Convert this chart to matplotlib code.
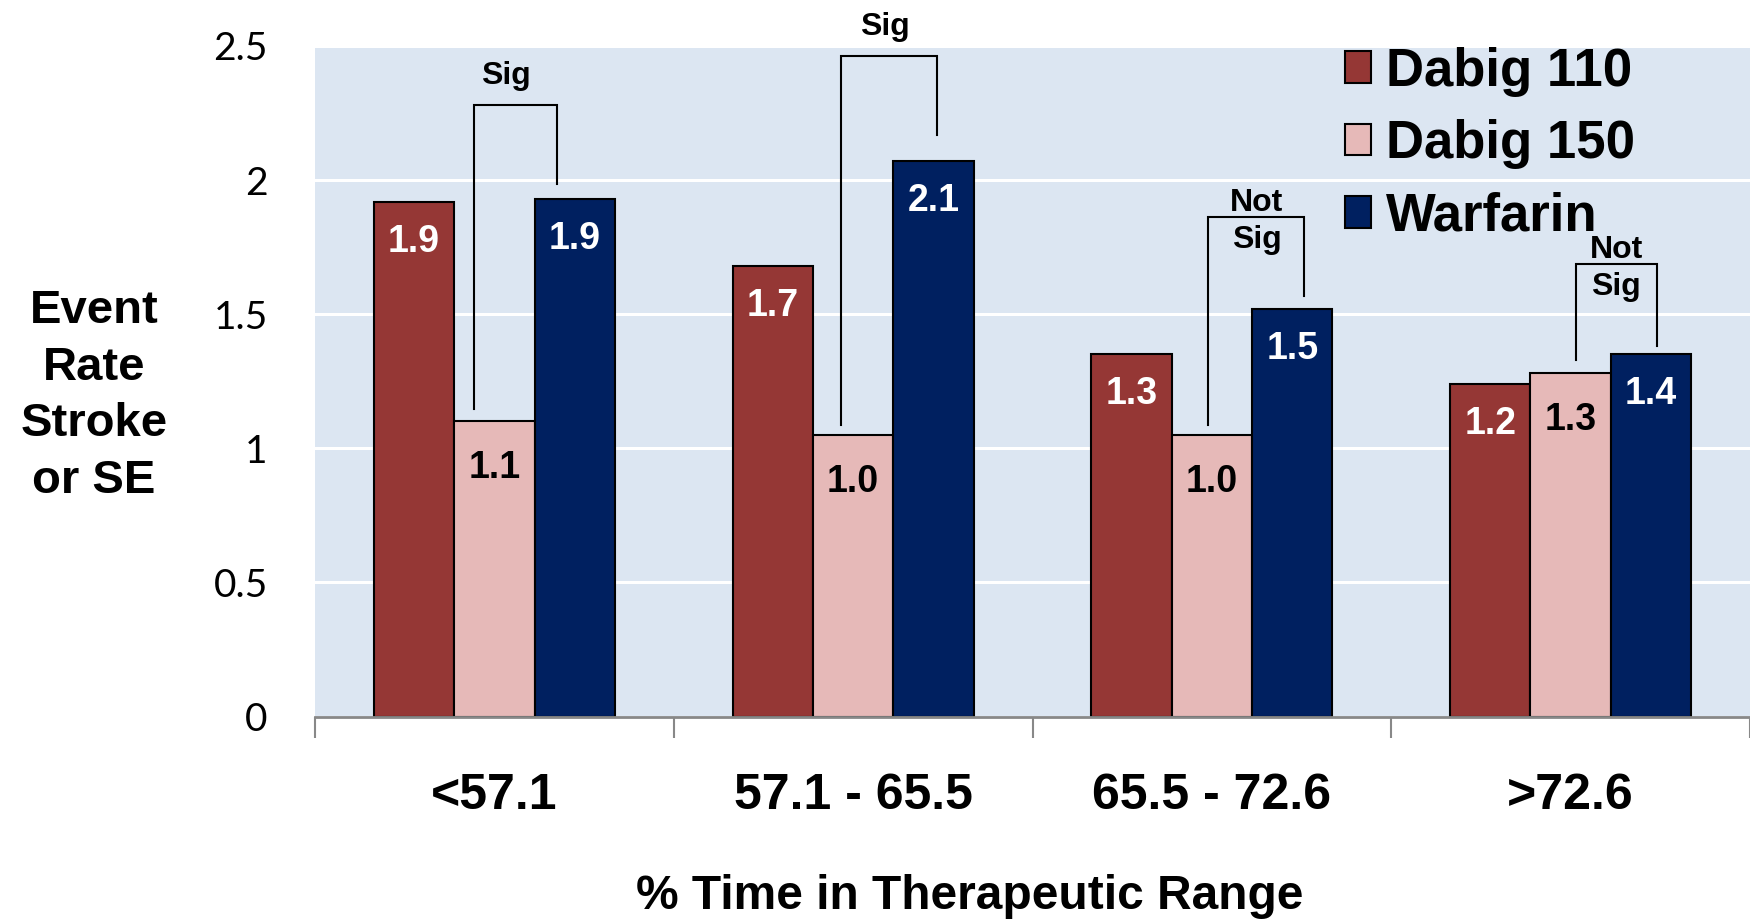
import matplotlib
matplotlib.use("Agg")
import matplotlib.pyplot as plt
import numpy as np

# ---- data ----
categories = ["<57.1", "57.1 - 65.5", "65.5 - 72.6", ">72.6"]
series_names = ["Dabig 110", "Dabig 150", "Warfarin"]
dabig110 = [1.92, 1.68, 1.35, 1.24]
dabig150 = [1.10, 1.05, 1.05, 1.28]
warfarin = [1.93, 2.07, 1.52, 1.35]
label110 = ["1.9", "1.7", "1.3", "1.2"]
label150 = ["1.1", "1.0", "1.0", "1.3"]
labelwar = ["1.9", "2.1", "1.5", "1.4"]
sig_labels = ["Sig", "Sig", "Not\nSig", "Not\nSig"]
y_ticks = [0, 0.5, 1, 1.5, 2, 2.5]
y_tick_labels = ["0", "0.5", "1", "1.5", "2", "2.5"]

colors = ["#953735", "#E6B9B8", "#002060"]
label_colors = ["white", "black", "white"]
label_offsets = [-40, -47, -40]

fig = plt.figure(figsize=(17.5, 9.21), dpi=100)
ax = fig.add_axes([315/1750, 1-716.5/921, 1-315/1750, (716.5-46)/921])
ax.set_facecolor("#DCE6F2")

x = np.arange(len(categories))
w = 0.224
series = [dabig110, dabig150, warfarin]
labels = [label110, label150, labelwar]
for i, (vals, c, labs, lc, off) in enumerate(zip(series, colors, labels, label_colors, label_offsets)):
    b = ax.bar(x + (i-1)*w, vals, width=w, color=c, edgecolor="black",
               linewidth=1.5, label=series_names[i], zorder=3)
    for rect, lab in zip(b, labs):
        ax.annotate(lab, (rect.get_x()+rect.get_width()/2, rect.get_height()),
                    xytext=(0, off), textcoords="offset pixels",
                    ha="center", va="center", fontsize=27, fontweight="bold",
                    color=lc, family="Liberation Sans", zorder=5)

# significance brackets: (x_left, x_right, y_top, y_left_bottom, y_right_bottom, text_x)
brackets = [
    (-0.058, 0.175, 2.279, 1.146, 1.987, 0.032),
    (0.965, 1.2325, 2.4625, 1.0875, 2.167, 1.089),
    (1.988, 2.256, 1.8625, 1.0875, 1.567, 2.125),
    (3.015, 3.242, 1.6875, 1.329, 1.383, 3.127),
]
for (xl, xr, yt, yl, yr, tx), s in zip(brackets, sig_labels):
    ax.plot([xl, xl, xr, xr], [yl, yt, yt, yr], color="black", lw=1.5,
             zorder=4, clip_on=False, solid_joinstyle="miter")
    if "\n" in s:
        ax.text(tx, yt - 0.018, s, ha="center", va="center", fontsize=23,
                fontweight="bold", family="Liberation Sans", linespacing=1.3,
                zorder=5, clip_on=False)
    else:
        ax.text(tx, yt + 0.11, s, ha="center", va="center", fontsize=23,
                fontweight="bold", family="Liberation Sans", zorder=5,
                clip_on=False)

ax.set_xlim(-0.5, 3.5)
ax.set_ylim(0, 2.5)
ax.set_yticks(y_ticks)
ax.set_yticklabels(y_tick_labels, family="Lato", fontsize=28)
ax.yaxis.grid(True, color="white", linewidth=2.2, zorder=0)
ax.set_axisbelow(True)
ax.tick_params(axis="y", length=0, pad=34)

ax.set_xticks(x)
ax.set_xticklabels(categories, fontsize=36, fontweight="bold", family="Liberation Sans")
ax.tick_params(axis="x", which="major", length=0, pad=41)
ax.set_xticks(np.arange(-0.5, 4.0, 1.0), minor=True)
ax.tick_params(axis="x", which="minor", length=15, width=1.5, color="#888888")

for sp in ["top", "right", "left"]:
    ax.spines[sp].set_visible(False)
ax.spines["bottom"].set_color("#888888")
ax.spines["bottom"].set_linewidth(2)
ax.spines["bottom"].set_zorder(4)

fig.text(970/1750, 1-896/921, "% Time in Therapeutic Range", ha="center", va="center",
         fontsize=34.5, fontweight="bold", family="Liberation Sans")
fig.text(94/1750, 1-396/921, "Event\nRate\nStroke\nor SE", ha="center", va="center",
         fontsize=34, fontweight="bold", family="Liberation Sans", linespacing=1.38)

leg = ax.legend(loc="upper left", bbox_to_anchor=(1345/1750, 1-47/921),
                bbox_transform=fig.transFigure, frameon=False,
                prop={"family": "Liberation Sans", "weight": "bold", "size": 38},
                handlelength=0.5, handleheight=0.55, handletextpad=0.27,
                labelspacing=0.42, borderpad=0, borderaxespad=0)
for h in leg.legend_handles:
    h.set_edgecolor("black")
    h.set_linewidth(1.5)

fig.savefig("out.png", dpi=100)
